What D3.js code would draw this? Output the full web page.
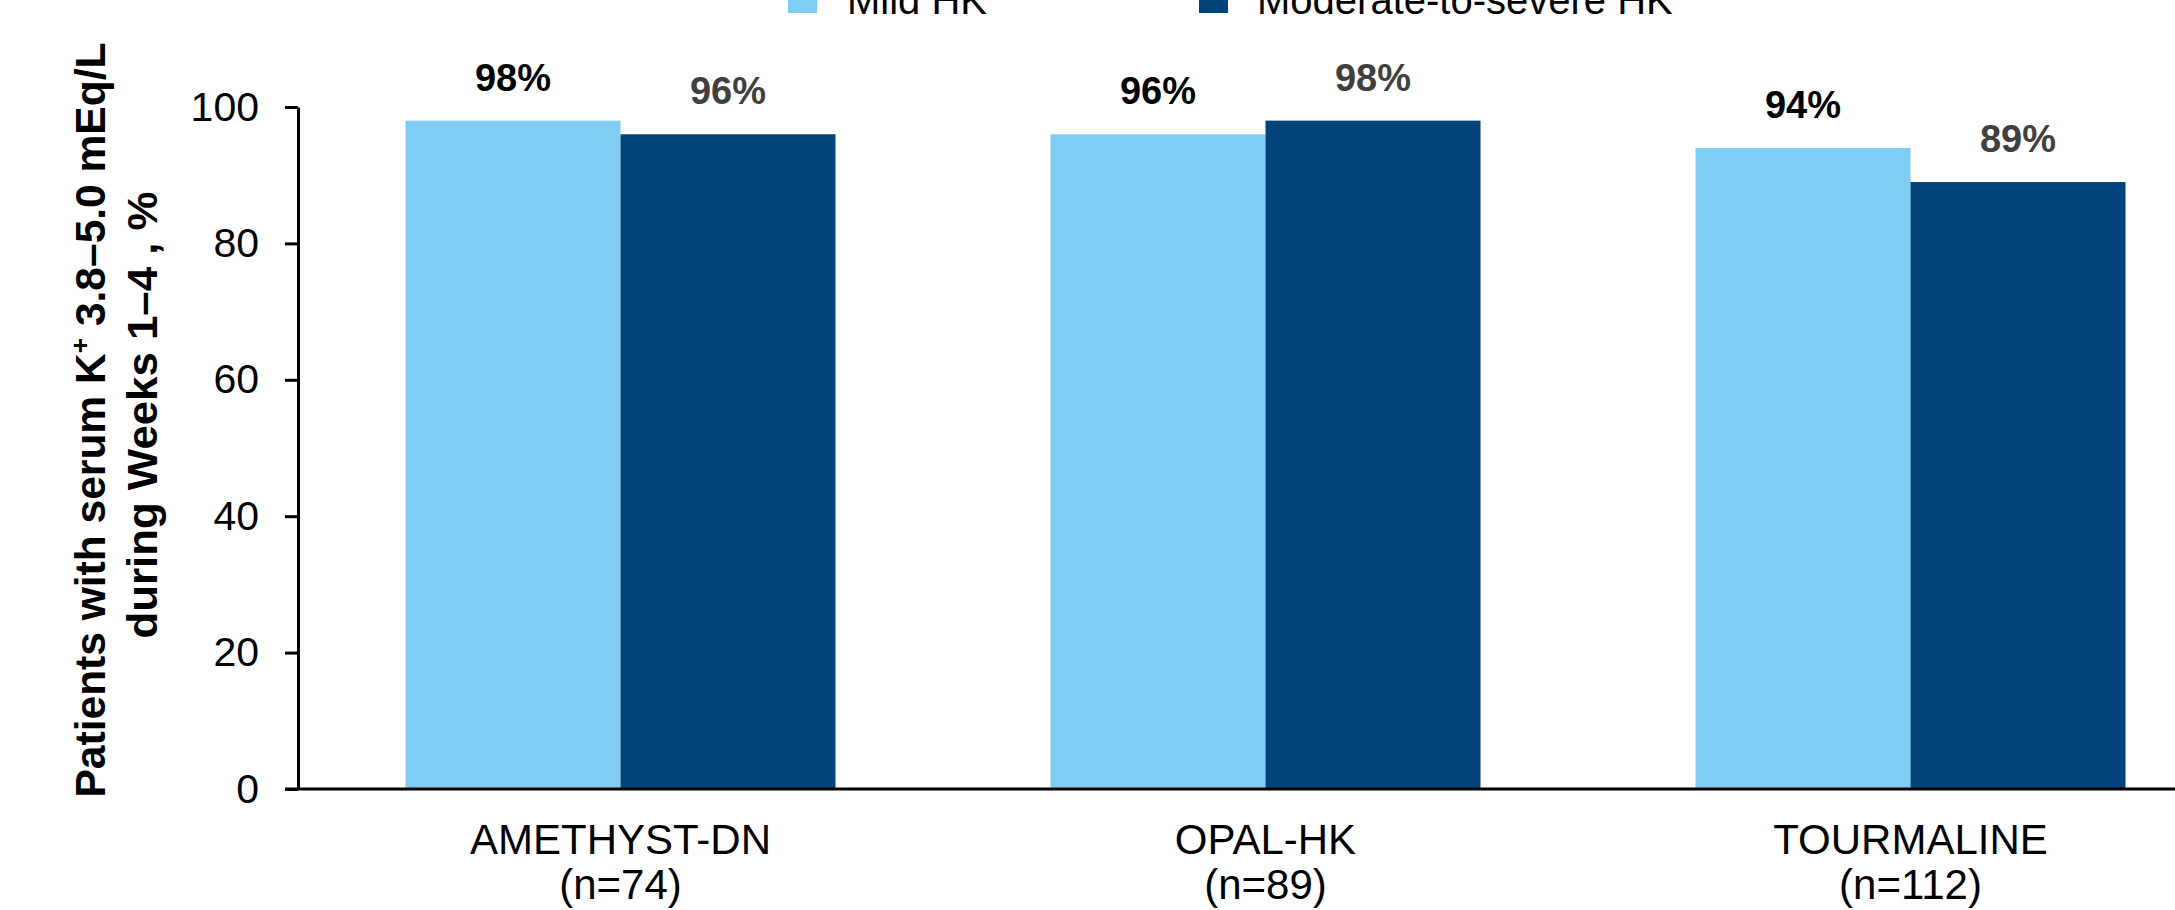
<!DOCTYPE html>
<html>
<head>
<meta charset="utf-8">
<script src="https://cdn.jsdelivr.net/npm/d3@7"></script>
<style>
  html, body { margin: 0; padding: 0; background: #fff; }
  svg { display: block; font-family: "Liberation Sans", Arial, sans-serif; }
</style>
</head>
<body>
<svg id="chart" width="2175" height="910"></svg>
<script>
// Studies on the x axis, with their sample sizes
const studies = ["AMETHYST-DN", "OPAL-HK", "TOURMALINE"];
const sampleSizes = ["(n=74)", "(n=89)", "(n=112)"];

// Series: hyperkalaemia severity
const seriesNames = ["Mild HK", "Moderate-to-severe HK"];
const mildValues = [98, 96, 94];
const moderateSevereValues = [96, 98, 89];

// Y axis ticks
const yTicks = [0, 20, 40, 60, 80, 100];

const colors = { "Mild HK": "#7fcdf2", "Moderate-to-severe HK": "#01437a" };
const labelColors = { "Mild HK": "#000000", "Moderate-to-severe HK": "#404040" };

const svg = d3.select("#chart");
const W = 2175;

const margin = { left: 298, top: 107, bottom: 789 };

const y = d3.scaleLinear().domain([0, 100]).range([margin.bottom, margin.top]);

const x = d3.scaleBand()
  .domain(studies)
  .range([margin.left, margin.left + 3 * 645])
  .paddingInner(1 / 3)
  .paddingOuter(1 / 6);

const xs = d3.scaleBand().domain(seriesNames).range([0, x.bandwidth()]);

const rows = studies.map((s, i) => ({
  study: s,
  values: [
    { key: seriesNames[0], value: mildValues[i] },
    { key: seriesNames[1], value: moderateSevereValues[i] }
  ]
}));

// Bars
const groups = svg.append("g").selectAll("g")
  .data(rows).join("g")
  .attr("transform", d => `translate(${x(d.study)},0)`);

groups.selectAll("rect")
  .data(d => d.values).join("rect")
  .attr("x", d => xs(d.key))
  .attr("y", d => y(d.value))
  .attr("width", xs.bandwidth())
  .attr("height", d => y(0) - y(d.value))
  .attr("fill", d => colors[d.key]);

// Value labels
groups.selectAll("text.val")
  .data(d => d.values).join("text")
  .attr("class", "val")
  .attr("x", d => xs(d.key) + xs.bandwidth() / 2)
  .attr("y", d => y(d.value) - 30)
  .attr("text-anchor", "middle")
  .attr("font-weight", "bold")
  .attr("font-size", 38)
  .attr("fill", d => labelColors[d.key])
  .text(d => d.value + "%");

// Y axis
const yAxis = svg.append("g")
  .attr("transform", `translate(${margin.left},0)`)
  .call(d3.axisLeft(y).tickValues(yTicks).tickSize(13).tickPadding(26).tickSizeOuter(0));
yAxis.select(".domain").attr("stroke", "#000").attr("stroke-width", 3);
yAxis.selectAll(".tick line").attr("stroke", "#000").attr("stroke-width", 3);
yAxis.selectAll(".tick text")
  .attr("font-size", 41)
  .attr("font-family", "Liberation Sans, Arial, sans-serif")
  .attr("fill", "#000");

// X axis baseline
svg.append("line")
  .attr("x1", margin.left - 13).attr("x2", W)
  .attr("y1", y(0)).attr("y2", y(0))
  .attr("stroke", "#000").attr("stroke-width", 3);

// Category labels (two lines)
const cat = svg.append("g").selectAll("text")
  .data(studies).join("text")
  .attr("text-anchor", "middle")
  .attr("font-size", 42)
  .attr("fill", "#000");
cat.append("tspan")
  .attr("x", d => x(d) + x.bandwidth() / 2)
  .attr("y", 854)
  .text(d => d);
cat.append("tspan")
  .attr("x", d => x(d) + x.bandwidth() / 2)
  .attr("y", 899)
  .text((d, i) => sampleSizes[i]);

// Y axis title (two lines, rotated)
const titleCenter = 420;
const t1 = svg.append("text")
  .attr("transform", `translate(105,${titleCenter}) rotate(-90)`)
  .attr("text-anchor", "middle")
  .attr("font-weight", "bold")
  .attr("font-size", 42)
  .attr("textLength", 755)
  .attr("lengthAdjust", "spacingAndGlyphs");
t1.append("tspan").text("Patients with serum K");
t1.append("tspan").attr("font-size", 26).attr("dy", -16).text("+");
t1.append("tspan").attr("dy", 16).text(" 3.8–5.0 mEq/L");

svg.append("text")
  .attr("transform", `translate(157,${titleCenter - 5}) rotate(-90)`)
  .attr("text-anchor", "middle")
  .attr("font-weight", "bold")
  .attr("font-size", 42)
  .attr("textLength", 447)
  .attr("lengthAdjust", "spacingAndGlyphs")
  .text("during Weeks 1–4 , %");

// Legend (top)
const legendItems = [
  { key: seriesNames[0], sx: 788, tx: 847 },
  { key: seriesNames[1], sx: 1199, tx: 1257 }
];
const legend = svg.append("g");
legend.selectAll("rect")
  .data(legendItems).join("rect")
  .attr("x", d => d.sx).attr("y", -16)
  .attr("width", 29).attr("height", 29)
  .attr("fill", d => colors[d.key]);
legend.selectAll("text")
  .data(legendItems).join("text")
  .attr("x", d => d.tx).attr("y", 14)
  .attr("font-size", 40)
  .attr("fill", "#000")
  .text(d => d.key);
</script>
</body>
</html>
